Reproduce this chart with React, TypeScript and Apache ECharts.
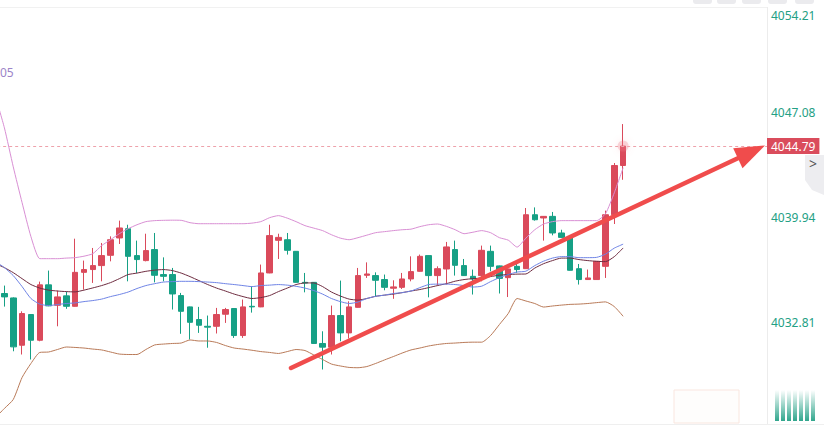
import React, { useEffect, useRef } from "react";
import * as echarts from "echarts";

const FONT = "'Noto Sans', 'DejaVu Sans', sans-serif";

// 71 visible candles, oldest first: open / close / low / high
const opens = [
  4034.76, 4034.46, 4031.24, 4033.33, 4031.58, 4035.35, 4033.96, 4034.60, 4033.89, 4036.20,
  4036.39, 4036.66, 4037.36, 4038.54, 4039.17, 4037.34, 4037.00, 4037.75, 4036.05, 4036.05,
  4034.62, 4033.85, 4032.99, 4032.53, 4032.53, 4033.35, 4033.74, 4031.90, 4033.89, 4033.85,
  4036.16, 4038.38, 4038.42, 4037.63, 4035.52, 4035.52, 4031.36, 4031.11, 4033.26, 4032.08,
  4033.82, 4036.00, 4035.98, 4035.71, 4035.12, 4035.18, 4035.75, 4036.27, 4037.34, 4035.98,
  4036.43, 4037.75, 4036.66, 4035.93, 4035.98, 4037.63, 4036.64, 4035.84, 4036.61, 4036.45,
  4040.12, 4039.90, 4040.01, 4038.88, 4038.54, 4036.45, 4035.71, 4035.71, 4036.61, 4040.12,
  4043.47,
];
const closes = [
  4034.53, 4031.13, 4033.40, 4031.58, 4035.35, 4033.92, 4034.53, 4033.89, 4036.20, 4036.39,
  4036.66, 4037.34, 4038.42, 4039.22, 4037.29, 4037.07, 4037.68, 4036.00, 4035.93, 4034.73,
  4033.55, 4032.80, 4032.60, 4032.47, 4033.33, 4033.67, 4031.90, 4033.85, 4033.85, 4036.16,
  4038.70, 4038.58, 4037.70, 4035.52, 4035.47, 4031.36, 4031.11, 4033.26, 4032.08, 4033.85,
  4035.98, 4036.09, 4035.66, 4035.18, 4035.21, 4035.75, 4036.25, 4037.29, 4035.98, 4036.45,
  4037.93, 4036.68, 4035.98, 4035.75, 4037.70, 4036.61, 4035.79, 4036.43, 4036.39, 4040.12,
  4039.78, 4040.01, 4038.88, 4038.58, 4036.34, 4035.71, 4035.82, 4036.95, 4040.12, 4043.47,
  4044.79,
];
const lows = [
  4033.87, 4030.83, 4030.61, 4030.27, 4031.51, 4033.90, 4032.53, 4033.72, 4033.87, 4035.03,
  4035.48, 4035.59, 4036.95, 4038.13, 4035.59, 4036.16, 4036.95, 4035.52, 4035.59, 4033.67,
  4032.02, 4031.63, 4032.08, 4031.07, 4032.04, 4032.76, 4031.74, 4031.74, 4033.46, 4033.83,
  4036.14, 4037.11, 4037.41, 4035.50, 4034.84, 4031.34, 4029.59, 4030.61, 4031.51, 4031.70,
  4033.80, 4035.82, 4034.57, 4034.98, 4034.40, 4035.07, 4035.59, 4036.25, 4034.50, 4035.30,
  4035.37, 4035.98, 4035.96, 4034.69, 4035.59, 4036.27, 4034.76, 4034.52, 4036.16, 4036.43,
  4039.72, 4038.36, 4038.72, 4038.54, 4036.32, 4035.37, 4035.70, 4035.70, 4035.82, 4039.49,
  4042.50,
];
const highs = [
  4035.30, 4034.50, 4033.55, 4033.35, 4035.57, 4036.32, 4034.96, 4034.89, 4038.49, 4037.00,
  4037.86, 4038.20, 4038.65, 4039.72, 4039.44, 4038.36, 4038.83, 4038.88, 4037.22, 4036.50,
  4034.80, 4033.87, 4033.85, 4033.26, 4033.78, 4033.78, 4033.76, 4034.35, 4035.25, 4036.73,
  4039.44, 4038.83, 4038.88, 4037.65, 4036.16, 4035.54, 4032.19, 4033.94, 4035.64, 4034.23,
  4036.50, 4036.88, 4036.20, 4036.05, 4035.66, 4036.16, 4037.29, 4037.41, 4037.36, 4036.61,
  4038.27, 4038.36, 4037.11, 4036.39, 4038.02, 4038.02, 4036.66, 4036.45, 4036.77, 4040.58,
  4040.62, 4040.03, 4040.31, 4039.10, 4038.56, 4036.77, 4036.39, 4036.97, 4040.40, 4043.64,
  4046.29,
];

// indicator lines: first value is the bar just left of the visible area, then one per candle
const bollUpper = [
  4048.14,
  4046.03, 4043.38, 4040.94, 4038.63, 4037.13, 4037.13, 4037.13, 4037.17, 4037.20, 4037.30,
  4037.47, 4038.02, 4038.42, 4038.83, 4039.17, 4039.44, 4039.65, 4039.72, 4039.74, 4039.75,
  4039.74, 4039.58, 4039.51, 4039.51, 4039.51, 4039.51, 4039.51, 4039.51, 4039.55, 4039.65,
  4039.92, 4040.06, 4039.89, 4039.65, 4039.38, 4039.21, 4039.04, 4038.76, 4038.53, 4038.42,
  4038.56, 4038.73, 4038.90, 4038.97, 4039.04, 4039.10, 4039.14, 4039.31, 4039.44, 4039.49,
  4039.33, 4039.10, 4038.83, 4038.93, 4039.04, 4038.90, 4038.56, 4038.39, 4037.92, 4038.53,
  4039.10, 4039.49, 4039.65, 4039.72, 4039.72, 4039.72, 4039.72, 4039.72, 4040.19, 4041.62,
  4043.32,
];
const bollMid = [
  4036.79,
  4036.52, 4036.18, 4035.77, 4035.37, 4035.13, 4034.99, 4034.93, 4034.89, 4034.87, 4034.99,
  4035.14, 4035.30, 4035.50, 4035.77, 4036.05, 4036.15, 4036.27, 4036.35, 4036.39, 4036.32,
  4036.15, 4035.91, 4035.64, 4035.37, 4035.13, 4034.93, 4034.72, 4034.55, 4034.42, 4034.48,
  4034.62, 4034.89, 4035.13, 4035.37, 4035.48, 4035.48, 4035.23, 4034.86, 4034.59, 4034.38,
  4034.31, 4034.42, 4034.57, 4034.65, 4034.72, 4034.82, 4034.93, 4035.03, 4035.16, 4035.30,
  4035.43, 4035.60, 4035.71, 4035.77, 4035.81, 4035.91, 4036.01, 4036.05, 4036.08, 4036.09,
  4036.49, 4036.79, 4037.00, 4037.17, 4037.17, 4037.07, 4037.00, 4036.95, 4036.93, 4037.27,
  4037.86,
];
const maBlue = [
  4036.93,
  4036.52, 4035.98, 4035.23, 4034.42, 4034.04, 4033.94, 4034.01, 4034.08, 4034.12, 4034.21,
  4034.28, 4034.38, 4034.55, 4034.69, 4034.86, 4035.10, 4035.30, 4035.43, 4035.54, 4035.57,
  4035.59, 4035.59, 4035.57, 4035.54, 4035.50, 4035.43, 4035.37, 4035.30, 4035.23, 4035.30,
  4035.33, 4035.37, 4035.33, 4035.25, 4035.13, 4034.96, 4034.72, 4034.42, 4034.21, 4034.08,
  4034.18, 4034.42, 4034.57, 4034.65, 4034.76, 4034.82, 4034.93, 4035.16, 4035.37, 4035.40,
  4035.40, 4035.37, 4035.30, 4035.20, 4035.26, 4035.57, 4035.84, 4036.05, 4036.22, 4036.28,
  4036.66, 4036.96, 4037.17, 4037.27, 4037.27, 4037.20, 4037.20, 4037.22, 4037.44, 4037.85,
  4038.12,
];
const bollLower = [
  4026.33,
  4026.94, 4027.55, 4029.05, 4030.00, 4030.75, 4030.78, 4030.95, 4031.12, 4031.09, 4031.05,
  4030.98, 4030.92, 4030.78, 4030.64, 4030.61, 4030.61, 4030.95, 4031.26, 4031.32, 4031.36,
  4031.39, 4031.60, 4031.53, 4031.53, 4031.43, 4031.22, 4031.05, 4030.98, 4030.90, 4030.81,
  4030.75, 4030.68, 4030.81, 4030.95, 4030.88, 4030.58, 4030.27, 4029.96, 4029.83, 4029.73,
  4029.71, 4029.79, 4030.00, 4030.24, 4030.47, 4030.71, 4030.92, 4031.05, 4031.19, 4031.29,
  4031.36, 4031.39, 4031.43, 4031.45, 4031.45, 4031.90, 4032.65, 4033.40, 4034.42, 4034.25,
  4034.08, 4033.84, 4033.91, 4033.97, 4034.02, 4034.04, 4034.08, 4034.14, 4034.19, 4033.87,
  4033.21,
];

const yTickLabels = ["4032.81", "4039.94", "4047.08", "4054.21"];
const yMin = 4025.6767;
const yMax = 4054.733;
const yInterval = 7.1333;
const lastPrice = 4044.79;
const TOTAL_SLOTS = 88;

const UP = "#da4a5b";
const DOWN = "#16a085";
const LABEL_GREEN = "#23a084";

export default function App() {
  const ref = useRef<HTMLDivElement>(null);

  useEffect(() => {
    const el = ref.current as HTMLDivElement;
    const chart = echarts.init(el, null, { renderer: "svg" });

    const categories = Array.from({ length: TOTAL_SLOTS }, (_, i) => "b" + i);
    const candleData = opens.map((o, i) => [i + 1, o, closes[i], lows[i], highs[i]]);

    // arrow annotation
    const a0 = [291, 368];
    const tip = [765, 145.5];
    const dx = tip[0] - a0[0];
    const dy = tip[1] - a0[1];
    const len = Math.sqrt(dx * dx + dy * dy);
    const ux = dx / len;
    const uy = dy / len;
    const headLen = 30;
    const headHalf = 11;
    const bx = tip[0] - ux * headLen;
    const by = tip[1] - uy * headLen;
    const nx = -uy;
    const ny = ux;

    const stripes = [0, 1, 2, 3, 4, 5, 6].map((k) => ({
      type: "rect",
      shape: { x: 775 + k * 6, y: 390, width: 4, height: 31 },
      style: {
        fill: new echarts.graphic.LinearGradient(0, 0, 0, 1, [
          { offset: 0, color: "rgba(26,156,128,0)" },
          { offset: 1, color: "rgba(26,156,128,0.9)" },
        ]),
      },
      z: 1,
    }));

    const topButtons = [693, 717, 742, 768, 795].map((x) => ({
      type: "rect",
      shape: { x, y: -6, width: 19, height: 10, r: 3 },
      style: { fill: "#ebebee" },
      z: 1,
    }));

    chart.setOption({
      animation: false,
      backgroundColor: "#ffffff",
      grid: {
        left: -8.84,
        right: 55,
        top: 0,
        bottom: 0,
        containLabel: false,
        outerBoundsMode: "none",
      },
      xAxis: {
        type: "category",
        data: categories,
        boundaryGap: true,
        show: false,
      },
      yAxis: {
        type: "value",
        position: "right",
        min: yMin,
        max: yMax,
        interval: yInterval,
        scale: true,
        splitLine: { show: false },
        axisLine: { show: false },
        axisTick: { show: false },
        axisLabel: {
          margin: 2,
          color: LABEL_GREEN,
          fontSize: 12,
          fontFamily: FONT,
          showMinLabel: true,
          showMaxLabel: true,
          formatter: (v: number) => {
            const s = v.toFixed(2);
            if (!yTickLabels.includes(s)) return "";
            return s === yTickLabels[yTickLabels.length - 1] ? `{top|${s}}` : s;
          },
          rich: {
            top: {
              padding: [15, 0, 0, 0],
              color: LABEL_GREEN,
              fontSize: 12,
              fontFamily: FONT,
            },
          },
        },
      },
      series: [
        {
          type: "candlestick",
          data: candleData,
          encode: { x: 0, y: [1, 2, 3, 4] },
          barWidth: 6,
          z: 2,
          itemStyle: {
            color: UP,
            color0: DOWN,
            borderColor: UP,
            borderColor0: DOWN,
            borderWidth: 1,
          },
          markLine: {
            silent: true,
            symbol: ["none", "none"],
            data: [{ yAxis: lastPrice }],
            lineStyle: { type: [3, 3], color: "#eea2ab", width: 1 },
            label: {
              show: true,
              position: "end",
              distance: -2,
              formatter: lastPrice.toFixed(2),
              backgroundColor: "#da4c5c",
              color: "#ffffff",
              fontSize: 12,
              fontFamily: FONT,
              padding: [2, 4, 2, 4],
            },
          },
        },
        {
          type: "line",
          data: bollUpper,
          symbol: "none",
          smooth: 0.2,
          z: 3,
          lineStyle: { color: "#d98fd4", width: 1 },
        },
        {
          type: "line",
          data: bollMid,
          symbol: "none",
          smooth: 0.2,
          z: 3,
          lineStyle: { color: "#6e2c40", width: 1 },
        },
        {
          type: "line",
          data: maBlue,
          symbol: "none",
          smooth: 0.2,
          z: 3,
          lineStyle: { color: "#6f84e6", width: 1 },
        },
        {
          type: "line",
          data: bollLower,
          symbol: "none",
          smooth: 0.2,
          z: 3,
          lineStyle: { color: "#b97a58", width: 1 },
        },
        {
          type: "scatter",
          data: [[opens.length, lastPrice]],
          symbolSize: 11,
          silent: true,
          z: 4,
          itemStyle: {
            color: "rgba(238,120,132,0.35)",
            shadowBlur: 6,
            shadowColor: "rgba(238,120,132,0.6)",
          },
        },
      ],
      graphic: [
        {
          type: "line",
          shape: { x1: 0, y1: 7.5, x2: 767, y2: 7.5 },
          style: { stroke: "#f1f1f1", lineWidth: 1 },
          z: 1,
        },
        {
          type: "line",
          shape: { x1: 767.5, y1: 7, x2: 767.5, y2: 424 },
          style: { stroke: "#ececec", lineWidth: 1 },
          z: 1,
        },
        {
          type: "line",
          shape: { x1: 0, y1: 424.5, x2: 824, y2: 424.5 },
          style: { stroke: "#efefef", lineWidth: 1 },
          z: 1,
        },
        ...topButtons,
        {
          type: "rect",
          shape: { x: 674, y: 390, width: 65, height: 33 },
          style: { fill: "rgba(252,246,243,0.25)", stroke: "#f9e6df", lineWidth: 1 },
          z: 1,
        },
        ...stripes,
        {
          type: "polygon",
          shape: { points: [[805, 155], [824, 155], [824, 195], [812, 190], [805, 180]] },
          style: { fill: "#ededf0" },
          z: 1,
        },
        {
          type: "text",
          x: 813,
          y: 163,
          style: {
            text: ">",
            fill: "#555555",
            fontSize: 14,
            fontFamily: FONT,
            align: "center",
            verticalAlign: "middle",
          },
          z: 2,
        },
        {
          type: "text",
          x: 0,
          y: 72,
          style: {
            text: "05",
            fill: "#9c84c8",
            fontSize: 12,
            fontFamily: FONT,
            verticalAlign: "middle",
          },
          z: 5,
        },
        {
          type: "polyline",
          shape: { points: [a0, [bx, by]] },
          style: { stroke: "#f04c4c", lineWidth: 4.5, lineCap: "round" },
          z: 10,
        },
        {
          type: "polygon",
          shape: {
            points: [
              tip,
              [bx + nx * headHalf, by + ny * headHalf],
              [bx - nx * headHalf, by - ny * headHalf],
            ],
          },
          style: { fill: "#f04c4c" },
          z: 10,
        },
      ],
    });

    return () => {
      chart.dispose();
    };
  }, []);

  return (
    <div
      ref={ref}
      style={{
        position: "fixed",
        left: 0,
        top: 0,
        width: 824,
        height: 427,
        background: "#ffffff",
      }}
    />
  );
}
